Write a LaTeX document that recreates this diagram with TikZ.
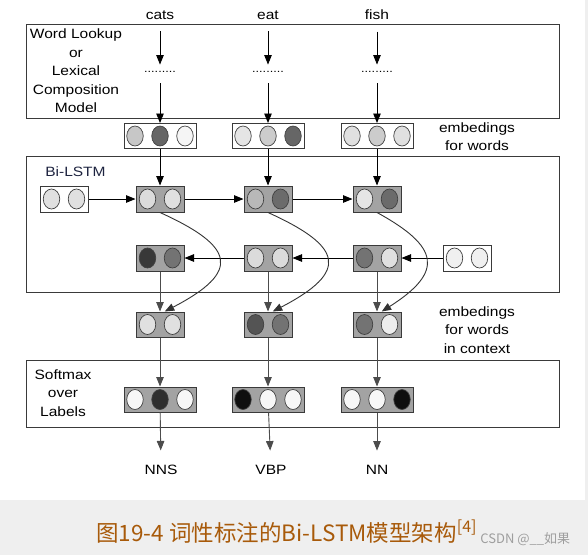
\documentclass[tikz,border=0pt]{standalone}
\usepackage{fontspec}
\setmainfont{Liberation Sans}[FakeStretch=1.15]
\newfontfamily\cjkfont{Noto Sans CJK SC}
\usetikzlibrary{arrows.meta}
\usetikzlibrary{calc}
\usetikzlibrary{shapes.geometric}

\definecolor{capcolor}{HTML}{A85A0A}
\definecolor{pagegray}{HTML}{EFEFEF}
\definecolor{inkgray}{HTML}{3A3A3A}
\definecolor{labelblue}{HTML}{1E2440}

\tikzset{
  frame/.style={draw=inkgray, line width=1pt},
  lbl/.style={font=\fontsize{13.5}{18.5}\selectfont, text=black},
  vecbox/.style={draw=inkgray, line width=1pt, fill=black!36, inner sep=0},
  twobox/.style={vecbox, minimum width=48, minimum height=26},
  threebox/.style={vecbox, minimum width=72, minimum height=25},
  cell/.style={ellipse, draw=black!75, line width=0.7pt, inner sep=0, minimum width=16.5, minimum height=20},
}

% circles of one vector box: box name, number of circles, black shares
\newcommand{\putcells}[3]{%
  \foreach \f [count=\i] in {#3}
    \node[cell, fill=black!\f] (#1-\i) at ($(#1.center)+({(\i-(#2+1)/2)*25},0)$) {};}

\begin{document}
\begin{tikzpicture}[x=1pt, y=-1pt, line width=0.9pt, >={Triangle[length=9.5pt,width=7.5pt]}]
    \useasboundingbox (0,0) rectangle (588,555);
    \fill[pagegray] (0,0) rectangle (588,555);
    \fill[white] (0,0) rectangle (585,500);

    % frames
    \node[frame, minimum width=533, minimum height=94] (lookup) at (292.5,71) {};
    \node[frame, minimum width=533, minimum height=136] (bilstm) at (292.5,224) {};
    \node[frame, minimum width=533, minimum height=67] (softmax) at (292.5,393.5) {};

    \node[lbl, align=center] (lookuptxt) at (76,71) {Word Lookup\\or\\Lexical\\Composition\\Model};
    \node[lbl, anchor=west, text=labelblue] (bilstmtxt) at (41.5,172) {Bi-LSTM};
    \node[lbl, align=center] (softtxt) at (63,393) {Softmax\\over\\Labels};
    \node[lbl, align=center] (embtxt) at (477,136.5) {embedings\\for words};
    \node[lbl, align=center] (ctxtxt) at (477,330) {embedings\\for words\\in context};

    % words
    \node[lbl] (w1) at (160,15) {cats};
    \node[lbl] (w2) at (268,15) {eat};
    \node[lbl] (w3) at (377,15) {fish};
    \node[lbl, font=\fontsize{11}{12}\selectfont, inner sep=0, minimum height=14] (d1) at (160,72) {.........};
    \node[lbl, font=\fontsize{11}{12}\selectfont, inner sep=0, minimum height=14] (d2) at (268,72) {.........};
    \node[lbl, font=\fontsize{11}{12}\selectfont, inner sep=0, minimum height=14] (d3) at (377,72) {.........};

    % embeddings for words
    \node[threebox, fill=white] (e1) at (160,136) {};
    \node[threebox, fill=white] (e2) at (268,136) {};
    \node[threebox, fill=white] (e3) at (377,136) {};
    \putcells{e1}{3}{22,60,4}
    \putcells{e2}{3}{10,20,60}
    \putcells{e3}{3}{12,20,12}

    % forward and backward states
    \node[twobox, fill=white] (fi) at (64,199) {};
    \node[twobox] (f1) at (160,199) {};
    \node[twobox] (f2) at (268,199) {};
    \node[twobox] (f3) at (377,199) {};
    \node[twobox] (b1) at (160,258) {};
    \node[twobox] (b2) at (268,258) {};
    \node[twobox] (b3) at (377,258) {};
    \node[twobox, fill=white] (bi) at (467,258) {};
    \putcells{fi}{2}{12,12}
    \putcells{f1}{2}{14,12}
    \putcells{f2}{2}{28,58}
    \putcells{f3}{2}{10,58}
    \putcells{b1}{2}{78,55}
    \putcells{b2}{2}{14,14}
    \putcells{b3}{2}{55,12}
    \putcells{bi}{2}{6,6}

    % embeddings in context
    \node[twobox, minimum height=25] (c1) at (160,324.5) {};
    \node[twobox, minimum height=25] (c2) at (268,324.5) {};
    \node[twobox, minimum height=25] (c3) at (377,324.5) {};
    \putcells{c1}{2}{12,12}
    \putcells{c2}{2}{67,55}
    \putcells{c3}{2}{55,7}

    % softmax outputs
    \node[threebox] (s1) at (160,399.5) {};
    \node[threebox] (s2) at (268,399.5) {};
    \node[threebox] (s3) at (377,399.5) {};
    \putcells{s1}{3}{3,82,3}
    \putcells{s2}{3}{94,3,3}
    \putcells{s3}{3}{3,3,94}

    \node[lbl] (t1) at (161,470) {NNS};
    \node[lbl] (t2) at (271,470) {VBP};
    \node[lbl] (t3) at (377,470) {NN};

    \draw[->, shorten <=8pt] (w1) -- (d1);
    \draw[->, shorten <=8pt] (w2) -- (d2);
    \draw[->, shorten <=8pt] (w3) -- (d3);
    \draw[->, shorten <=4pt] (d1) -- (e1);
    \draw[->, shorten <=4pt] (d2) -- (e2);
    \draw[->, shorten <=4pt] (d3) -- (e3);
    \draw[->] (e1) -- (f1);
    \draw[->] (e2) -- (f2);
    \draw[->] (e3) -- (f3);

    \draw[->] (fi) -- (f1);
    \draw[->] (f1) -- (f2);
    \draw[->] (f2) -- (f3);
    \draw[->] (bi) -- (b3);
    \draw[->] (b3) -- (b2);
    \draw[->] (b2) -- (b1);

    \draw[->, draw=black!70] (b1) -- (c1);
    \draw[->, draw=black!70] (b2) -- (c2);
    \draw[->, draw=black!70] (b3) -- (c3);
    \draw[->, draw=black!80] (f1.south) .. controls +(75,34) and +(77,-40) .. (c1.70);
    \draw[->, draw=black!80] (f2.south) .. controls +(75,34) and +(77,-40) .. (c2.70);
    \draw[->, draw=black!80] (f3.south) .. controls +(62,34) and +(63,-40) .. (c3.70);

    \draw[->, draw=black!70] (c1) -- (s1);
    \draw[->, draw=black!70] (c2) -- (s2);
    \draw[->, draw=black!70] (c3) -- (s3);
    \draw[->, draw=black!70, shorten >=11pt] (s1) -- (t1);
    \draw[->, draw=black!70, shorten >=11pt] (s2) -- (t2);
    \draw[->, draw=black!70, shorten >=11pt] (s3) -- (t3);

    % caption
    \node[anchor=base west, inner sep=0, text=capcolor, font=\cjkfont\fontsize{22.5}{24}\selectfont] (caption) at (96,541) {图19-4 词性标注的Bi-LSTM模型架构\raisebox{8.5pt}{\fontsize{16}{16}\selectfont[4]}};
    \node[anchor=base west, inner sep=0, text=black!38, font=\cjkfont\fontsize{13}{14}\selectfont] (mark) at (480,543) {CSDN @\_\_如果};
\end{tikzpicture}
\end{document}
